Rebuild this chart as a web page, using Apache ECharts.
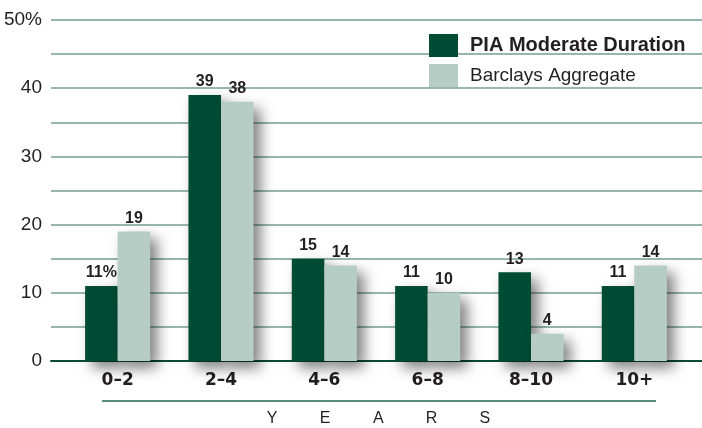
<!DOCTYPE html>
<html>
<head>
<meta charset="utf-8">
<script src="https://cdn.jsdelivr.net/npm/echarts@6/dist/echarts.min.js"></script>
<style>
html,body{margin:0;padding:0;background:#fff;}
#chart{width:702px;height:428px;}
</style>
</head>
<body>
<div id="chart"></div>
<script>
var categories = ['0–2', '2–4', '4–6', '6–8', '8–10', '10+'];
var piaModerate = [11, 39, 15, 11, 13, 11];
var barclaysAgg = [19, 38, 14, 10, 4, 14];
var seriesNames = ['PIA Moderate Duration', 'Barclays Aggregate'];
var axisLetters = ['Y', 'E', 'A', 'R', 'S'];

var DARK = '#004b34';
var LIGHT = '#b6cdc5';
var GRIDC = '#72a08e';
var TXT = '#231f20';

var chart = echarts.init(document.getElementById('chart'), null, {renderer: 'canvas'});

var shadow = {shadowColor: 'rgba(0,0,0,0.5)', shadowBlur: 14, shadowOffsetX: 7, shadowOffsetY: 7};

var graphics = [{
  type: 'line', z: 1,
  shape: {x1: 102, y1: 401, x2: 656, y2: 401},
  style: {stroke: '#5a8a78', lineWidth: 2}
}];
axisLetters.forEach(function (ch, i) {
  graphics.push({
    type: 'text', x: 272 + i * 53.2, y: 419,
    style: {text: ch, font: '16px "Liberation Sans"', fill: TXT, align: 'center', verticalAlign: 'middle'}
  });
});

chart.setOption({
  animation: false,
  backgroundColor: '#fff',
  grid: [
    {left: 66, right: 16, top: 20, bottom: 67},
    {left: 51, right: 0, top: 20, bottom: 67}
  ],
  legend: {
    orient: 'vertical', left: 424, top: 29,
    itemWidth: 29, itemHeight: 23, itemGap: 7,
    icon: 'rect',
    textStyle: {fontFamily: 'Liberation Sans', fontSize: 20, color: TXT, padding: [0, 0, 0, 7]},
    data: [
      {name: seriesNames[0], textStyle: {fontWeight: 'bold'}},
      {name: seriesNames[1], textStyle: {fontSize: 19}}
    ]
  },
  xAxis: [
    {
      type: 'category', gridIndex: 0, data: categories,
      axisLine: {show: false}, axisTick: {show: false},
      axisLabel: {margin: 11, fontFamily: 'DejaVu Sans', fontWeight: 'bold', fontSize: 17, color: TXT}
    },
    {
      type: 'value', gridIndex: 1, min: 0, max: 1,
      axisLine: {show: true, onZero: false, lineStyle: {color: '#0b4a36', width: 2}},
      axisTick: {show: false}, axisLabel: {show: false}, splitLine: {show: false}
    }
  ],
  yAxis: [
    {type: 'value', gridIndex: 0, min: 0, max: 50, interval: 5, show: false, splitLine: {show: false}},
    {
      type: 'value', gridIndex: 1, min: 0, max: 50, interval: 5,
      axisLine: {show: false}, axisTick: {show: false},
      splitLine: {show: true, lineStyle: {color: GRIDC, width: 1.5}},
      axisLabel: {
        margin: 9, fontFamily: 'Liberation Sans', fontSize: 19, color: TXT,
        formatter: function (v) {
          if (v % 10 !== 0) return '';
          return v === 50 ? '50%' : String(v);
        }
      }
    }
  ],
  series: [
    {
      name: seriesNames[0], type: 'bar', xAxisIndex: 0, yAxisIndex: 0,
      data: piaModerate, barGap: '0%', barCategoryGap: '37%',
      itemStyle: Object.assign({color: DARK}, shadow),
      label: {
        show: true, position: 'top', distance: 5,
        fontFamily: 'Liberation Sans', fontWeight: 'bold', fontSize: 16, color: TXT,
        formatter: function (p) { return p.dataIndex === 0 ? p.value + '%' : String(p.value); }
      }
    },
    {
      name: seriesNames[1], type: 'bar', xAxisIndex: 0, yAxisIndex: 0,
      data: barclaysAgg, barGap: '0%', barCategoryGap: '37%',
      itemStyle: Object.assign({color: LIGHT}, shadow),
      label: {
        show: true, position: 'top', distance: 5,
        fontFamily: 'Liberation Sans', fontWeight: 'bold', fontSize: 16, color: TXT
      }
    }
  ],
  graphic: graphics
});
</script>
</body>
</html>
